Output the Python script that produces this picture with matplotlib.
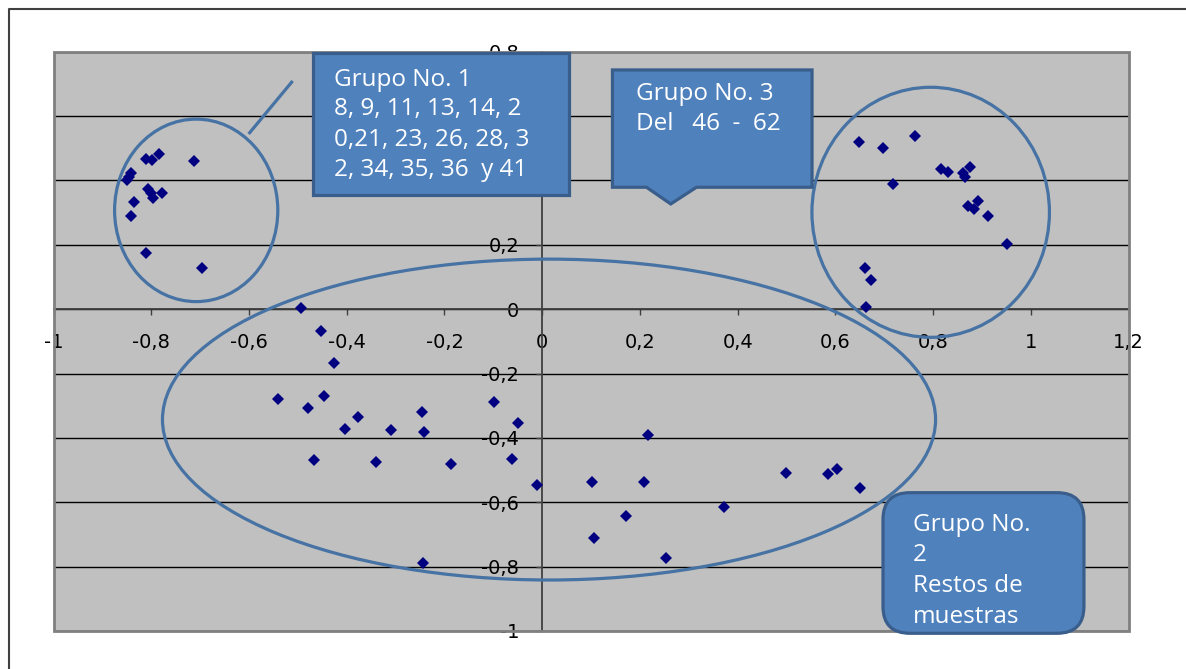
import matplotlib
matplotlib.use("Agg")
import matplotlib.pyplot as plt
from matplotlib.patches import Ellipse, Polygon, FancyBboxPatch, Rectangle
from matplotlib.lines import Line2D

# ---- data ----
grupo1_x = [-0.810, -0.799, -0.784, -0.713, -0.842, -0.849, -0.846, -0.806,
            -0.801, -0.796, -0.777, -0.836, -0.842, -0.811, -0.697]
grupo1_y = [0.466, 0.464, 0.483, 0.461, 0.422, 0.401, 0.412, 0.373,
            0.360, 0.345, 0.362, 0.333, 0.290, 0.174, 0.128]

grupo2_x = [-0.493, -0.452, -0.426, -0.540, -0.479, -0.447, -0.377, -0.404,
            -0.309, -0.246, -0.242, -0.467, -0.340, -0.186, -0.099, -0.050,
            -0.061, -0.011, 0.102, 0.106, -0.244, 0.216, 0.208, 0.171,
            0.253, 0.373, 0.499, 0.585, 0.604, 0.650]
grupo2_y = [0.003, -0.067, -0.168, -0.278, -0.308, -0.271, -0.334, -0.373,
            -0.375, -0.320, -0.383, -0.469, -0.476, -0.481, -0.287, -0.355,
            -0.467, -0.546, -0.537, -0.710, -0.790, -0.390, -0.537, -0.644,
            -0.772, -0.616, -0.509, -0.511, -0.498, -0.555]

grupo3_x = [0.648, 0.697, 0.763, 0.718, 0.817, 0.830, 0.861, 0.875, 0.865,
            0.892, 0.871, 0.883, 0.912, 0.951, 0.660, 0.673, 0.663]
grupo3_y = [0.520, 0.500, 0.538, 0.388, 0.436, 0.425, 0.422, 0.443, 0.410,
            0.337, 0.321, 0.310, 0.291, 0.202, 0.129, 0.091, 0.008]

x_ticks = [-1, -0.8, -0.6, -0.4, -0.2, 0, 0.2, 0.4, 0.6, 0.8, 1, 1.2]
x_labels = ["-1", "-0,8", "-0,6", "-0,4", "-0,2", "0", "0,2", "0,4", "0,6", "0,8", "1", "1,2"]
y_ticks = [-1, -0.8, -0.6, -0.4, -0.2, 0, 0.2, 0.4, 0.6, 0.8]
# 0,6 and 0,4 sit behind the Grupo 1 box in the picture
y_labels = ["-1", "-0,8", "-0,6", "-0,4", "-0,2", "0", "0,2", "", "", "0,8"]

texto1 = ["Grupo No. 1", "8, 9, 11, 13, 14, 2", "0,21, 23, 26, 28, 3", "2, 34, 35, 36  y 41"]
texto3 = ["Grupo No. 3", "Del   46  -  62"]
texto2 = ["Grupo No.", "2", "Restos de", "muestras"]

NAVY = "#000080"
LINEA = "#4672A4"
RELLENO = "#4F81BD"
BORDE = "#3A5E8C"

W, H = 1186, 669
fig = plt.figure(figsize=(W / 100, H / 100), dpi=100)
ax = fig.add_axes([53.5 / W, 1 - 631 / H, (1128.6 - 53.5) / W, (631 - 51.7) / H])
ax.set_facecolor("#C0C0C0")
ax.set_xlim(-1, 1.2)
ax.set_ylim(-1, 0.8)
ax.set_axisbelow(True)
ax.yaxis.grid(True, color="black", lw=1.0)

for s in ["top", "right"]:
    ax.spines[s].set_visible(False)
ax.add_patch(Rectangle((0, 0), 1, 1, transform=ax.transAxes, fill=False,
                       edgecolor="#808080", lw=2, zorder=2.6, clip_on=False))
ax.spines["left"].set_position(("data", 0))
ax.spines["bottom"].set_position(("data", 0))
for s in ["left", "bottom"]:
    ax.spines[s].set_color("#404040")
    ax.spines[s].set_linewidth(1.3)

ax.set_xticks(x_ticks, x_labels)
ax.set_yticks(y_ticks, y_labels)
ax.tick_params(axis="x", direction="out", length=4.5, width=1, color="#404040", pad=13,
               labelsize=14, labelfontfamily="DejaVu Sans")
ax.tick_params(axis="y", direction="out", length=4.5, width=1, color="#404040", pad=12,
               labelsize=14, labelfontfamily="DejaVu Sans")

# points
for xs, ys in [(grupo1_x, grupo1_y), (grupo2_x, grupo2_y), (grupo3_x, grupo3_y)]:
    ax.plot(xs, ys, "D", color=NAVY, ms=6.3, mew=0, zorder=3)

# circles around the groups
for c, w, h in [((-0.708, 0.307), 0.334, 0.567),
                ((0.795, 0.301), 0.486, 0.777),
                ((0.014, -0.343), 1.582, 0.997)]:
    ax.add_patch(Ellipse(c, w, h, fill=False, edgecolor=LINEA, lw=2.3, zorder=4))

# Grupo 1 callout
ax.add_line(Line2D([-0.6007, -0.5106], [0.5444, 0.7091], color=LINEA, lw=2.3,
                   zorder=4, solid_capstyle="butt"))
ax.add_patch(Rectangle((-0.4693, 0.3549), 0.0554 + 0.4693, 0.7952 - 0.3549,
                       facecolor=RELLENO, edgecolor=BORDE, lw=2.3, zorder=6, clip_on=False))
for t, yy in zip(texto1, [0.7122, 0.6221, 0.5258, 0.4325]):
    ax.text(-0.427, yy, t, color="white", fontsize=17.5, family="Open Sans",
            ha="left", va="center", zorder=7)

# Grupo 3 callout
ax.add_patch(Polygon([(0.1438, 0.7433), (0.5522, 0.7433), (0.5522, 0.3788),
                      (0.3157, 0.3788), (0.2631, 0.3269), (0.2134, 0.3788),
                      (0.1438, 0.3788)], closed=True,
                     facecolor=RELLENO, edgecolor=BORDE, lw=2.3, zorder=6, clip_on=False))
for t, yy in zip(texto3, [0.6678, 0.5746]):
    ax.text(0.192, yy, t, color="white", fontsize=17.5, family="Open Sans",
            ha="left", va="center", zorder=7)

# Grupo 2 callout
ax.add_patch(FancyBboxPatch((0.6974, -1.0071), 1.1086 - 0.6974, 1.0071 - 0.5702,
                            boxstyle="round,pad=0,rounding_size=0.055",
                            mutation_aspect=1.519,
                            facecolor=RELLENO, edgecolor=BORDE, lw=2.3, zorder=6, clip_on=False))
for t, yy in zip(texto2, [-0.6706, -0.7638, -0.8601, -0.9556]):
    ax.text(0.7588, yy, t, color="white", fontsize=17.5, family="Open Sans",
            ha="left", va="center", zorder=7)

# outer frame (top and left edges only are in the picture)
fig.add_artist(Line2D([8.5 / W, 8.5 / W, 1], [0, 1 - 9.3 / H, 1 - 9.3 / H],
                      color="#404040", lw=1.5))

fig.savefig("out.png", dpi=100, facecolor="white")
